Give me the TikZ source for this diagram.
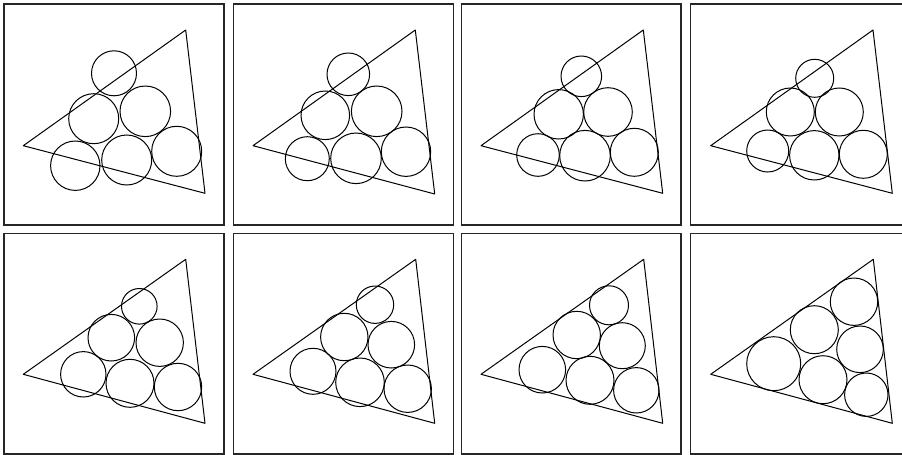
\documentclass[tikz,border=0pt]{standalone}
\begin{document}
\begin{tikzpicture}[x=1pt,y=-1pt,
  frame/.style={draw=black!85,line width=1.4pt},
  tri/.style={draw=black,line width=1pt,line join=round},
  ball/.style={draw=black,line width=1pt}]
\useasboundingbox (0,0) rectangle (902,455);
\clip (0,0) rectangle (902,455);
% frames
\draw[frame] (4,4) rectangle (224,225);
\draw[frame] (233.5,4) rectangle (453.3,225);
\draw[frame] (461.7,4) rectangle (681,225);
\draw[frame] (690.7,4) rectangle (912,225);
\draw[frame] (4,233.3) rectangle (224,454);
\draw[frame] (233.5,233.3) rectangle (453.3,454);
\draw[frame] (461.7,233.3) rectangle (681,454);
\draw[frame] (690.7,233.3) rectangle (912,454);
% panel 1
\draw[tri] (185.7,30) -- (23.3,145.7) -- (205,193.3) -- cycle;
\draw[ball] (114,73.3) circle (22.5);
\draw[ball] (93.7,118.7) circle (25);
\draw[ball] (145.3,111.3) circle (25.3);
\draw[ball] (75.3,165.7) circle (24.7);
\draw[ball] (126.7,160) circle (25);
\draw[ball] (176.7,151.3) circle (25);
% panel 2
\draw[tri] (415.3,30) -- (253,145.7) -- (434.7,194) -- cycle;
\draw[ball] (348.3,74.3) circle (21.3);
\draw[ball] (325.3,115.3) circle (24.3);
\draw[ball] (376.7,111.3) circle (25.3);
\draw[ball] (307.3,158.7) circle (22);
\draw[ball] (356,158.3) circle (25.3);
\draw[ball] (406,151.7) circle (24.7);
% panel 3
\draw[tri] (643.3,30) -- (481,145.7) -- (662.7,193.3) -- cycle;
\draw[ball] (581.3,76.3) circle (20.3);
\draw[ball] (558.7,114.3) circle (24.7);
\draw[ball] (608,112) circle (24.3);
\draw[ball] (538,155) circle (21.3);
\draw[ball] (585,155.7) circle (25.3);
\draw[ball] (634.3,152.3) circle (24);
% panel 4
\draw[tri] (873,30) -- (710.7,145.7) -- (892.3,193.3) -- cycle;
\draw[ball] (814.7,78.3) circle (19);
\draw[ball] (790.3,112) circle (24);
\draw[ball] (839.3,112) circle (24);
\draw[ball] (767.7,151) circle (21);
\draw[ball] (814.3,155.3) circle (24.7);
\draw[ball] (863.3,154.3) circle (24);
% panel 5
\draw[tri] (185.7,259.3) -- (23.3,374.3) -- (205,423.3) -- cycle;
\draw[ball] (139.3,306.3) circle (17.8);
\draw[ball] (111.3,337.7) circle (23.3);
\draw[ball] (159.7,342.7) circle (23.7);
\draw[ball] (83.3,374.3) circle (22.7);
\draw[ball] (130,383.3) circle (24);
\draw[ball] (178,387) circle (23.7);
% panel 6
\draw[tri] (415.7,259.3) -- (253,374.3) -- (434.7,423.3) -- cycle;
\draw[ball] (375,304.7) circle (18.7);
\draw[ball] (344.3,337) circle (23.7);
\draw[ball] (391.3,344.7) circle (23.3);
\draw[ball] (313,371.3) circle (23);
\draw[ball] (360,382.3) circle (24.3);
\draw[ball] (407.7,388.7) circle (23.7);
% panel 7
\draw[tri] (643.7,259.3) -- (481,374.3) -- (662.7,423.3) -- cycle;
\draw[ball] (609,305.3) circle (19.5);
\draw[ball] (576.7,335) circle (23.7);
\draw[ball] (622.3,345.7) circle (23);
\draw[ball] (542.3,369.7) circle (23.3);
\draw[ball] (590,380.3) circle (24);
\draw[ball] (636.3,390.3) circle (22.7);
% panel 8
\draw[tri] (873.3,259.3) -- (710.7,374.3) -- (892.3,423.3) -- cycle;
\draw[ball] (854,301.7) circle (23.7);
\draw[ball] (814.3,329.7) circle (24);
\draw[ball] (860,349.3) circle (23.3);
\draw[ball] (773.7,363.7) circle (27);
\draw[ball] (823,379.7) circle (24);
\draw[ball] (866.3,394.7) circle (21.7);
\end{tikzpicture}
\end{document}
